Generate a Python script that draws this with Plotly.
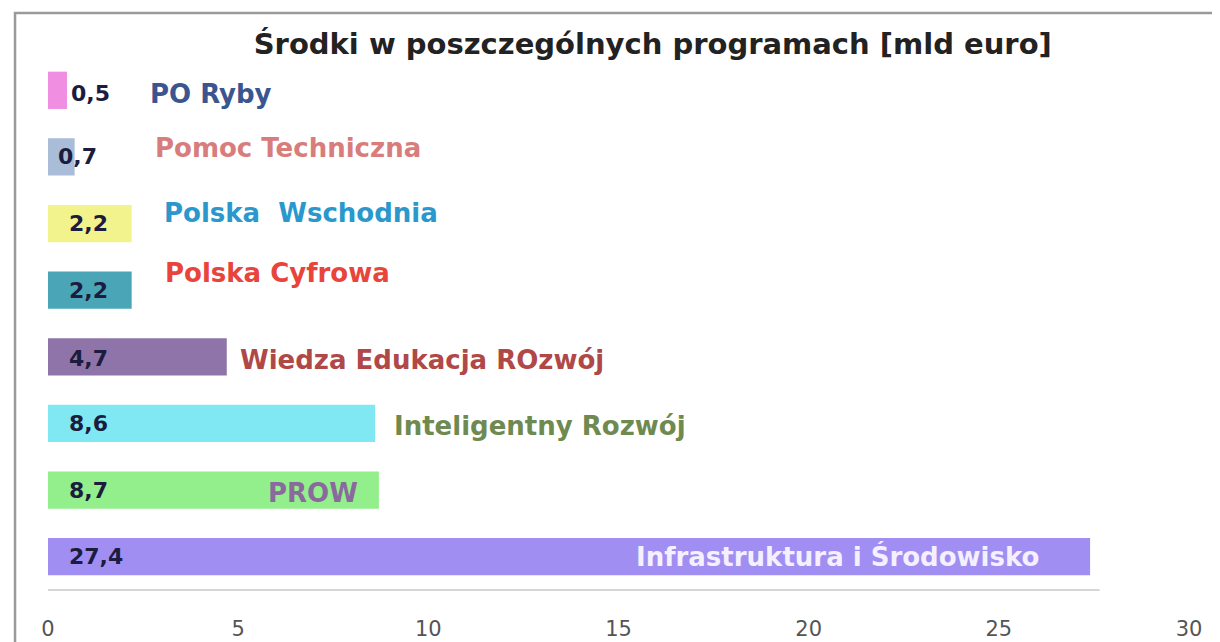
import plotly.graph_objects as go

# ---- data ----
programs = ["Infrastruktura i Środowisko", "PROW", "Inteligentny Rozwój",
            "Wiedza Edukacja ROzwój", "Polska Cyfrowa", "Polska  Wschodnia",
            "Pomoc Techniczna", "PO Ryby"]
values = [27.4, 8.7, 8.6, 4.7, 2.2, 2.2, 0.7, 0.5]
x_ticks = [0, 5, 10, 15, 20, 25, 30]

# ---- styles ----
bar_colors = ["#a18ef2", "#93ee8c", "#80e8f2", "#8e74a8", "#4aa6b6",
              "#f3f38e", "#a9bdd8", "#f08ee2"]
name_colors = ["#f4f0ff", "#8a6a9c", "#6f8a50", "#b04848", "#e8443c",
               "#2a98cc", "#d87c7c", "#3a5590"]
# (x anchor in axis units, xanchor, vertical shift px) for the program names
name_pos = [(26.1, "right", 0), (8.2, "right", -3), (9.05, "left", -3),
            (5.0, "left", -3), (3.03, "left", 17), (3.0, "left", 11),
            (2.76, "left", 9), (2.63, "left", -4)]
value_x = [0.5, 0.5, 0.5, 0.5, 0.5, 0.5, 0.2, 0.55]
value_shift = [0, 0, 0, -2, 0, 0, 0, -3]

FONT = "DejaVu Sans"

fig = go.Figure()
fig.add_trace(go.Bar(
    y=programs, x=values, orientation="h",
    marker=dict(color=bar_colors, line=dict(width=0)),
    width=0.56, hoverinfo="x+y",
))

for i, (p, v) in enumerate(zip(programs, values)):
    fig.add_annotation(
        x=value_x[i], y=p, xref="x", yref="y",
        text=f"{v:.1f}".replace(".", ","), showarrow=False,
        xanchor="left", yanchor="middle", yshift=value_shift[i],
        font=dict(family=FONT, size=22, color="#1c1c3e", weight="bold"),
    )
    nx, anchor, sh = name_pos[i]
    fig.add_annotation(
        x=nx, y=p, xref="x", yref="y", text=p, showarrow=False,
        xanchor=anchor, yanchor="middle", yshift=sh,
        font=dict(family=FONT, size=26, color=name_colors[i], weight="bold"),
    )

# outer frame (top and left edges visible)
fig.add_shape(type="rect", xref="paper", yref="paper",
              x0=-0.0289, y0=-0.3, x1=1.2, y1=1.0826,
              line=dict(color="#9a9a9a", width=2.5))
# baseline
fig.add_shape(type="line", xref="x", yref="paper",
              x0=-0.2, x1=27.65, y0=0, y1=0,
              line=dict(color="#c8c8c8", width=1.5))

fig.update_layout(
    width=1212, height=634,
    margin=dict(l=40, r=31, t=49, b=52, autoexpand=False),
    paper_bgcolor="white", plot_bgcolor="white",
    showlegend=False,
    title=dict(text="Środki w poszczególnych programach [mld euro]",
               x=0.532, xanchor="center", y=0.943, yanchor="middle",
               font=dict(family=FONT, size=29, color="#222222", weight="bold")),
    xaxis=dict(range=[0, 30], tickvals=x_ticks, showgrid=False,
               zeroline=False, showline=False, ticks="", automargin=False,
               tickfont=dict(family=FONT, size=21, color="#555555"),
               ticklabelstandoff=24),
    yaxis=dict(showticklabels=False, showgrid=False, zeroline=False,
               showline=False, ticks="", range=[-0.5, 7.5], automargin=False),
)

fig.write_html("out.html")
